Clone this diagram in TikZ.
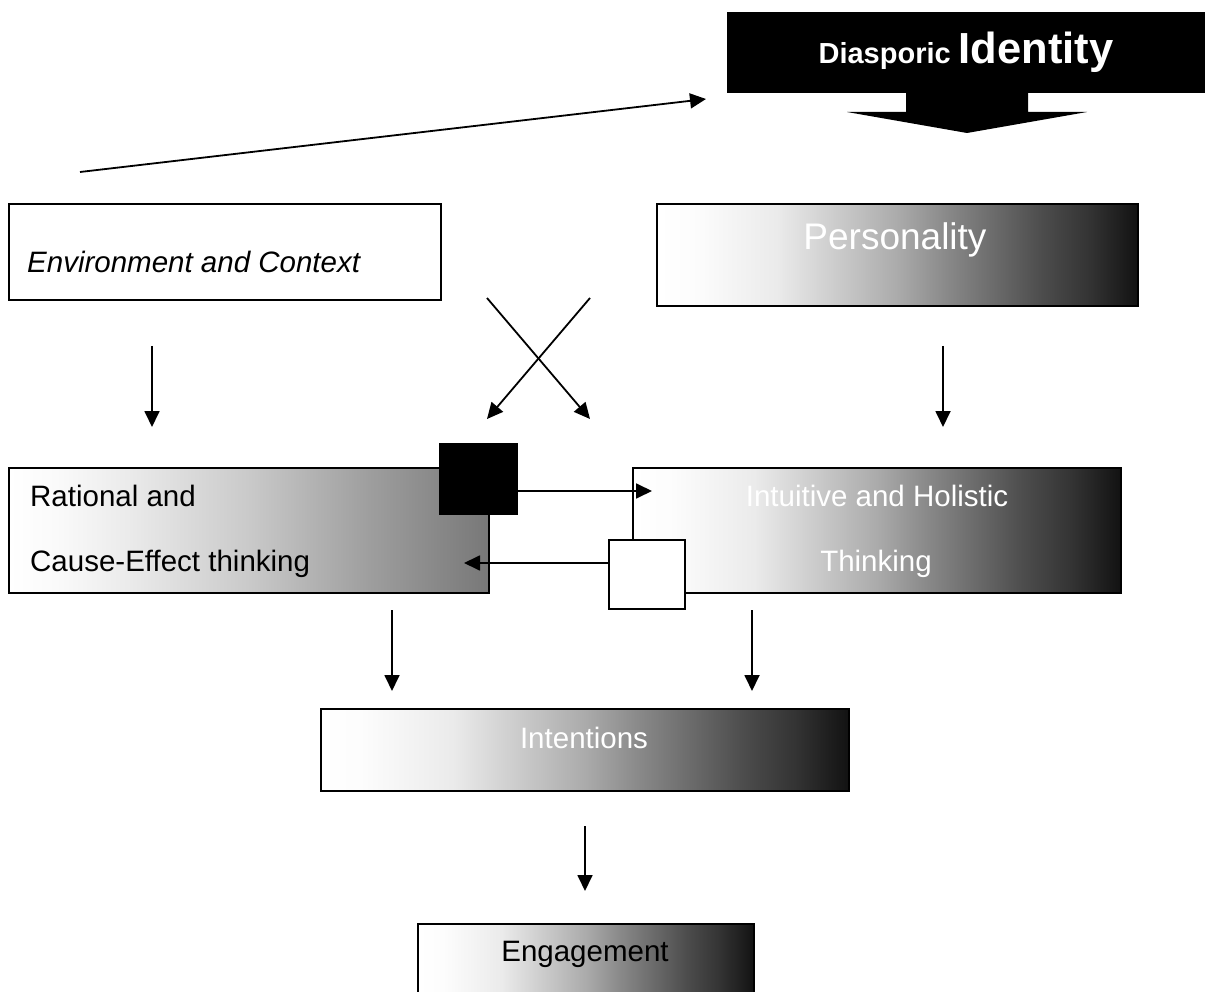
\documentclass[tikz,border=0pt]{standalone}
\usepackage{fontspec}
\setmainfont{Liberation Sans}
\usetikzlibrary{arrows.meta}
\pgfdeclarehorizontalshading{wbshade}{100bp}{color(0bp)=(white); color(25bp)=(white); color(29bp)=(black!1); color(37.5bp)=(black!8); color(42.5bp)=(black!18); color(50bp)=(black!33); color(55bp)=(black!46); color(60bp)=(black!58); color(65bp)=(black!70); color(70bp)=(black!80); color(75bp)=(black!93); color(100bp)=(black!93)}
\pgfdeclarehorizontalshading{ratshade}{100bp}{color(0bp)=(white); color(25bp)=(white); color(30bp)=(black!2); color(37.5bp)=(black!8); color(50bp)=(black!21); color(62.5bp)=(black!38); color(75bp)=(black!53); color(100bp)=(black!53)}
\tikzset{
  box/.style={draw=black, line width=1.8pt, inner sep=0pt, anchor=north west},
  gbox/.style={box, shading=wbshade},
  arr/.style={line width=1.8pt, -{Triangle[length=16pt,width=15pt]}},
  txt/.style={font=\fontsize{29.5}{34}\selectfont, inner sep=0pt, anchor=base},
}
\begin{document}
\begin{tikzpicture}[x=1pt,y=-1pt]
\useasboundingbox (0,0) rectangle (1205,992);
% callout
\node[fill=black, inner sep=0pt, anchor=north west, minimum width=483pt, minimum height=81pt] (diasp) at (727,12) {};
\fill[black] (906,92) -- (1028,92) -- (1028,112) -- (1087,112) -- (967,133) -- (847,112) -- (906,112) -- cycle;
\node[inner sep=0pt, anchor=base, text=white, font=\bfseries] (diasptxt) at (966,64) {\fontsize{29}{34}\selectfont Diasporic \fontsize{43.5}{48}\selectfont Identity};
% boxes
\node[box, minimum width=432pt, minimum height=96pt] (env) at (8,203) {};
\node[gbox, minimum width=481pt, minimum height=102pt] (pers) at (656,203) {};
\node[box, shading=ratshade, minimum width=480pt, minimum height=125pt] (rat) at (8,467) {};
\node[gbox, minimum width=488pt, minimum height=125pt] (intu) at (632,467) {};
\node[box, fill=black, minimum width=77pt, minimum height=70pt] (bsq) at (439,443) {};
\node[box, fill=white, minimum width=76pt, minimum height=69pt] (wsq) at (608,539) {};
\node[gbox, minimum width=528pt, minimum height=82pt] (inten) at (320,708) {};
\node[gbox, minimum width=336pt, minimum height=90pt] (eng) at (417,923) {};
% texts
\node[txt, anchor=base west, font=\fontsize{29.5}{34}\selectfont\itshape] (envtxt) at (27,273) {Environment and Context};
\node[txt, text=white, font=\fontsize{37}{42}\selectfont] (perstxt) at (895,250) {Personality};
\node[txt, anchor=base west] (rat1) at (30,506) {Rational and};
\node[txt, anchor=base west] (rat2) at (30,571) {Cause-Effect thinking};
\node[txt, text=white] (intu1) at (877,506) {Intuitive and Holistic};
\node[txt, text=white] (intu2) at (876,571) {Thinking};
\node[txt, text=white] (intentxt) at (584,748) {Intentions};
\node[txt] (engtxt) at (585,961) {Engagement};
% coordinates
\coordinate (lstart) at (80,172);
\coordinate (lend) at (706,99);
\coordinate (e1) at (152,346); \coordinate (e2) at (152,427);
\coordinate (p1) at (943,346); \coordinate (p2) at (943,427);
\coordinate (c1) at (487,298); \coordinate (c2) at (590,419);
\coordinate (c3) at (590,298); \coordinate (c4) at (487,419);
\coordinate (r1) at (392,610); \coordinate (r2) at (392,691);
\coordinate (i1) at (752,610); \coordinate (i2) at (752,691);
\coordinate (n1) at (585,826); \coordinate (n2) at (585,891);
\coordinate (b2) at (652,491);
\coordinate (w2) at (464,563);
% connectors
\draw[arr] (lstart) -- (lend);
\draw[arr] (e1) -- (e2);
\draw[arr] (p1) -- (p2);
\draw[arr] (c1) -- (c2);
\draw[arr] (c3) -- (c4);
\draw[arr] (r1) -- (r2);
\draw[arr] (i1) -- (i2);
\draw[arr] (n1) -- (n2);
\draw[arr] (bsq.east |- b2) -- (b2);
\draw[arr] (wsq.west |- w2) -- (w2);
\end{tikzpicture}
\end{document}
